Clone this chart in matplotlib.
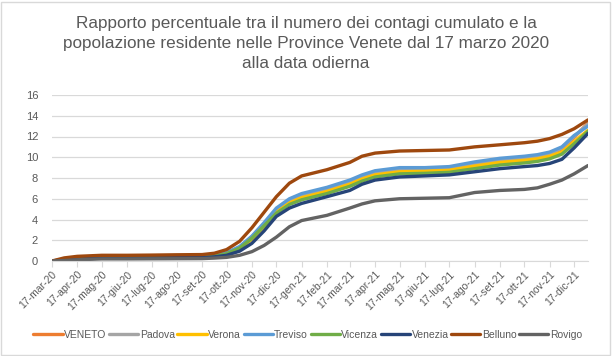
import matplotlib
matplotlib.use("Agg")
import matplotlib.pyplot as plt
import pandas as pd
from matplotlib.patches import Rectangle

dates = pd.to_datetime([
    "2020-03-17", "2020-04-01", "2020-04-17", "2020-05-17", "2020-06-17", "2020-07-17",
    "2020-08-17", "2020-09-17", "2020-10-02", "2020-10-17", "2020-11-02", "2020-11-17",
    "2020-12-02", "2020-12-17", "2021-01-02", "2021-01-17", "2021-02-17", "2021-03-17",
    "2021-04-01", "2021-04-17", "2021-05-17", "2021-06-17", "2021-07-17", "2021-08-17",
    "2021-09-17", "2021-10-17", "2021-11-02", "2021-11-17", "2021-12-02", "2021-12-17",
    "2022-01-03"])

veneto = [0, 0.12, 0.27, 0.37, 0.38, 0.4, 0.42, 0.44, 0.52, 0.75, 1.3, 2.25, 3.5, 4.9, 5.8, 6.3,
          6.9, 7.6, 8.1, 8.5, 8.8, 8.85, 8.95, 9.35, 9.7, 9.9, 10.05, 10.3, 10.8, 11.9, 13.3]
padova = [0, 0.13, 0.28, 0.38, 0.39, 0.41, 0.43, 0.45, 0.53, 0.77, 1.3, 2.2, 3.45, 4.85, 5.75, 6.25,
          6.85, 7.55, 8.05, 8.45, 8.75, 8.8, 8.9, 9.3, 9.65, 9.85, 10.0, 10.3, 10.9, 12.0, 13.2]
verona = [0, 0.1, 0.25, 0.35, 0.36, 0.38, 0.4, 0.42, 0.5, 0.72, 1.2, 2.1, 3.3, 4.7, 5.6, 6.1,
          6.7, 7.4, 7.9, 8.3, 8.6, 8.65, 8.75, 9.15, 9.5, 9.7, 9.85, 10.1, 10.5, 11.5, 12.6]
treviso = [0, 0.15, 0.3, 0.4, 0.4, 0.42, 0.45, 0.47, 0.55, 0.8, 1.4, 2.4, 3.7, 5.1, 6.0, 6.5,
           7.1, 7.8, 8.3, 8.7, 9.0, 9.0, 9.1, 9.55, 9.9, 10.1, 10.25, 10.5, 11.0, 12.1, 13.0]
vicenza = [0, 0.1, 0.22, 0.32, 0.33, 0.35, 0.37, 0.39, 0.47, 0.7, 1.25, 2.2, 3.4, 4.6, 5.45, 5.9,
           6.5, 7.2, 7.7, 8.1, 8.4, 8.45, 8.55, 8.9, 9.25, 9.45, 9.6, 9.85, 10.3, 11.3, 12.5]
venezia = [0, 0.08, 0.18, 0.28, 0.29, 0.3, 0.32, 0.34, 0.4, 0.55, 0.95, 1.7, 2.9, 4.3, 5.1, 5.55,
           6.2, 6.8, 7.4, 7.8, 8.1, 8.2, 8.3, 8.6, 8.9, 9.1, 9.2, 9.4, 9.8, 10.9, 12.3]
belluno = [0, 0.3, 0.45, 0.55, 0.55, 0.57, 0.6, 0.62, 0.75, 1.1, 1.9, 3.2, 4.7, 6.2, 7.5, 8.2,
           8.8, 9.5, 10.1, 10.4, 10.6, 10.65, 10.7, 11.0, 11.2, 11.4, 11.55, 11.8, 12.2, 12.75, 13.6]
rovigo = [0, 0.05, 0.12, 0.2, 0.2, 0.21, 0.22, 0.23, 0.28, 0.35, 0.55, 0.9, 1.5, 2.3, 3.3, 3.9,
          4.4, 5.1, 5.5, 5.8, 6.0, 6.05, 6.1, 6.6, 6.8, 6.9, 7.05, 7.4, 7.8, 8.4, 9.2]

series = [("VENETO", veneto, "#ED7D31"), ("Padova", padova, "#A5A5A5"),
          ("Verona", verona, "#FFC000"), ("Treviso", treviso, "#5B9BD5"),
          ("Vicenza", vicenza, "#70AD47"), ("Venezia", venezia, "#264478"),
          ("Belluno", belluno, "#9E480E"), ("Rovigo", rovigo, "#636363")]

tick_dates = pd.date_range("2020-03-17", periods=22, freq=pd.DateOffset(months=1))
mesi = ["gen", "feb", "mar", "apr", "mag", "giu", "lug", "ago", "set", "ott", "nov", "dic"]
tick_labels = ["17-%s-%s" % (mesi[d.month - 1], str(d.year)[2:]) for d in tick_dates]

plt.rcParams['font.family'] = ['Liberation Sans', 'DejaVu Sans']
txt = "#595959"
grid = "#D9D9D9"

fig = plt.figure(figsize=(6.12, 3.56), dpi=100)
ax = fig.add_axes([52 / 612, 1 - 261 / 356, 536 / 612, 166 / 356])

for name, vals, col in series:
    ax.plot(dates, vals, color=col, lw=2.4, label=name, solid_capstyle="round")

ax.set_ylim(0, 16)
ax.set_yticks(range(0, 17, 2))
ax.set_xlim(pd.Timestamp("2020-03-17"), pd.Timestamp("2022-01-03"))
ax.set_xticks(tick_dates)
ax.set_xticklabels(tick_labels, rotation=45, ha="right", rotation_mode="anchor")
ax.grid(axis="y", color=grid, lw=0.9)
ax.set_axisbelow(True)
for s in ["top", "right", "left"]:
    ax.spines[s].set_visible(False)
ax.spines["bottom"].set_color(grid)
ax.tick_params(axis="y", length=0, labelsize=8, labelcolor=txt, pad=10)
ax.tick_params(axis="x", length=4, color=grid, labelsize=7.5, labelcolor=txt, pad=2)

fig.text(0.5, 0.955,
         "Rapporto percentuale tra il numero dei contagi cumulato e la\n"
         "popolazione residente nelle Province Venete dal 17 marzo 2020\n"
         "alla data odierna", ha="center", va="top", fontsize=12.3, color=txt,
         linespacing=1.42)

ax.legend(loc="center", bbox_to_anchor=(0.477, -0.445), ncol=8, frameon=False, fontsize=7.5,
          handlelength=2.8, handletextpad=0.15, columnspacing=0.25, labelcolor=txt)

fig.patches.append(Rectangle((0.002, 0.003), 0.995, 0.992, transform=fig.transFigure,
                             fill=False, edgecolor=grid, lw=1))

fig.savefig("out.png", dpi=100)
